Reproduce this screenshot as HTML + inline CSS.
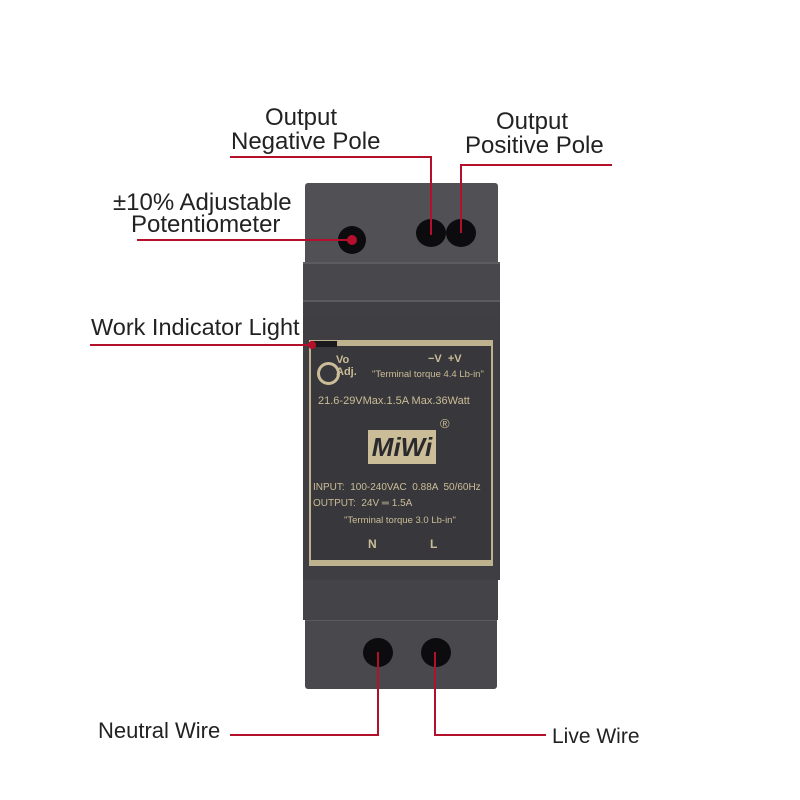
<!DOCTYPE html>
<html><head><style>
body{margin:0;background:#fff;width:800px;height:800px;overflow:hidden;position:relative;font-family:"Liberation Sans",sans-serif}
.a{position:absolute}
.t{position:absolute;color:#222;font-size:24px;line-height:24px;white-space:nowrap}
.r{position:absolute;background:#b4102b}
.lb{position:absolute;color:#cbbd97;font-size:11px;white-space:nowrap;font-family:"Liberation Sans Narrow","Liberation Sans",sans-serif}
</style></head><body>
<!-- body -->
<div class="a" style="left:305px;top:183px;width:193px;height:80px;background:#505055;border-radius:3px 3px 0 0"></div>
<div class="a" style="left:303px;top:262px;width:197px;height:56px;background:#47474c;border-top:2px solid #5c5c61"></div>
<div class="a" style="left:303px;top:300px;width:197px;height:18px;background:#3f3f44;border-top:2px solid #5a5a5f"></div>
<div class="a" style="left:303px;top:318px;width:197px;height:262px;background:#3e3e43"></div>
<div class="a" style="left:303px;top:580px;width:195px;height:40px;background:#434348"></div>
<div class="a" style="left:305px;top:620px;width:192px;height:68px;background:#48484d;border-top:1px solid #5a5a5f;border-radius:0 0 3px 3px"></div>
<!-- label -->
<div class="a" style="left:309px;top:340px;width:180px;height:214px;background:#37373c;border:2px solid #bfb28e;border-top-width:6px;border-bottom-width:6px"></div>
<div class="a" style="left:311px;top:341px;width:26px;height:6px;background:#1a1a1c"></div>
<div class="a" style="left:317px;top:362px;width:17px;height:17px;border:3px solid #cbbd97;border-radius:50%"></div>
<div class="lb" style="left:336px;top:354px;font-weight:bold;font-size:11px;line-height:12px">Vo<br>Adj.</div>
<div class="lb" style="left:428px;top:353px;font-weight:bold">−V &nbsp;+V</div>
<div class="lb" style="left:372px;top:369px;font-size:9.5px">"Terminal torque 4.4 Lb-in"</div>
<div class="lb" style="left:318px;top:395px">21.6-29VMax.1.5A Max.36Watt</div>
<div class="lb" style="left:440px;top:416px;font-size:13px">®</div>
<div class="a" style="left:368px;top:430px;width:68px;height:34px;background:#cbbd97"></div>
<div class="a" style="left:370px;top:432px;width:64px;height:30px;color:#2a2a2e;font:italic bold 26px 'Liberation Sans',sans-serif;text-align:center;line-height:30px">MiWi</div>
<div class="lb" style="left:313px;top:482px;font-size:10px">INPUT: &nbsp;100-240VAC &nbsp;0.88A &nbsp;50/60Hz</div>
<div class="lb" style="left:313px;top:498px;font-size:10px">OUTPUT: &nbsp;24V ═ 1.5A</div>
<div class="lb" style="left:344px;top:515px;font-size:9.5px">"Terminal torque 3.0 Lb-in"</div>
<div class="lb" style="left:368px;top:537px;font-weight:bold;font-size:12px">N</div>
<div class="lb" style="left:430px;top:537px;font-weight:bold;font-size:12px">L</div>
<!-- terminals -->
<div class="a" style="left:338px;top:226px;width:28px;height:28px;border-radius:50%;background:#0c0c0e"></div>
<div class="a" style="left:416px;top:219px;width:30px;height:28px;border-radius:50%;background:#0c0c0e"></div>
<div class="a" style="left:446px;top:219px;width:30px;height:28px;border-radius:50%;background:#0c0c0e"></div>
<div class="a" style="left:363px;top:638px;width:30px;height:29px;border-radius:50%;background:#0c0c0e"></div>
<div class="a" style="left:421px;top:638px;width:30px;height:29px;border-radius:50%;background:#0c0c0e"></div>
<!-- lines -->
<div class="r" style="left:230px;top:156px;width:202px;height:2px"></div>
<div class="r" style="left:430px;top:156px;width:2px;height:79px"></div>
<div class="r" style="left:460px;top:164px;width:152px;height:2px"></div>
<div class="r" style="left:460px;top:164px;width:2px;height:69px"></div>
<div class="r" style="left:137px;top:239px;width:215px;height:2px"></div>
<div class="r" style="left:347px;top:235px;width:10px;height:10px;border-radius:50%"></div>
<div class="r" style="left:90px;top:344px;width:222px;height:2px"></div>
<div class="r" style="left:308px;top:341px;width:8px;height:8px;border-radius:50%"></div>
<div class="r" style="left:377px;top:652px;width:2px;height:84px"></div>
<div class="r" style="left:230px;top:734px;width:149px;height:2px"></div>
<div class="r" style="left:434px;top:652px;width:2px;height:84px"></div>
<div class="r" style="left:434px;top:734px;width:112px;height:2px"></div>
<!-- text -->
<div class="t" style="left:265px;top:106px">Output</div>
<div class="t" style="left:231px;top:130px">Negative Pole</div>
<div class="t" style="left:496px;top:110px">Output</div>
<div class="t" style="left:465px;top:134px">Positive Pole</div>
<div class="t" style="left:113px;top:191px">±10% Adjustable</div>
<div class="t" style="left:131px;top:213px">Potentiometer</div>
<div class="t" style="left:91px;top:315px;font-size:23.5px">Work Indicator Light</div>
<div class="t" style="left:98px;top:719px;font-size:22px">Neutral Wire</div>
<div class="t" style="left:552px;top:725px;font-size:21px">Live Wire</div>
</body></html>
